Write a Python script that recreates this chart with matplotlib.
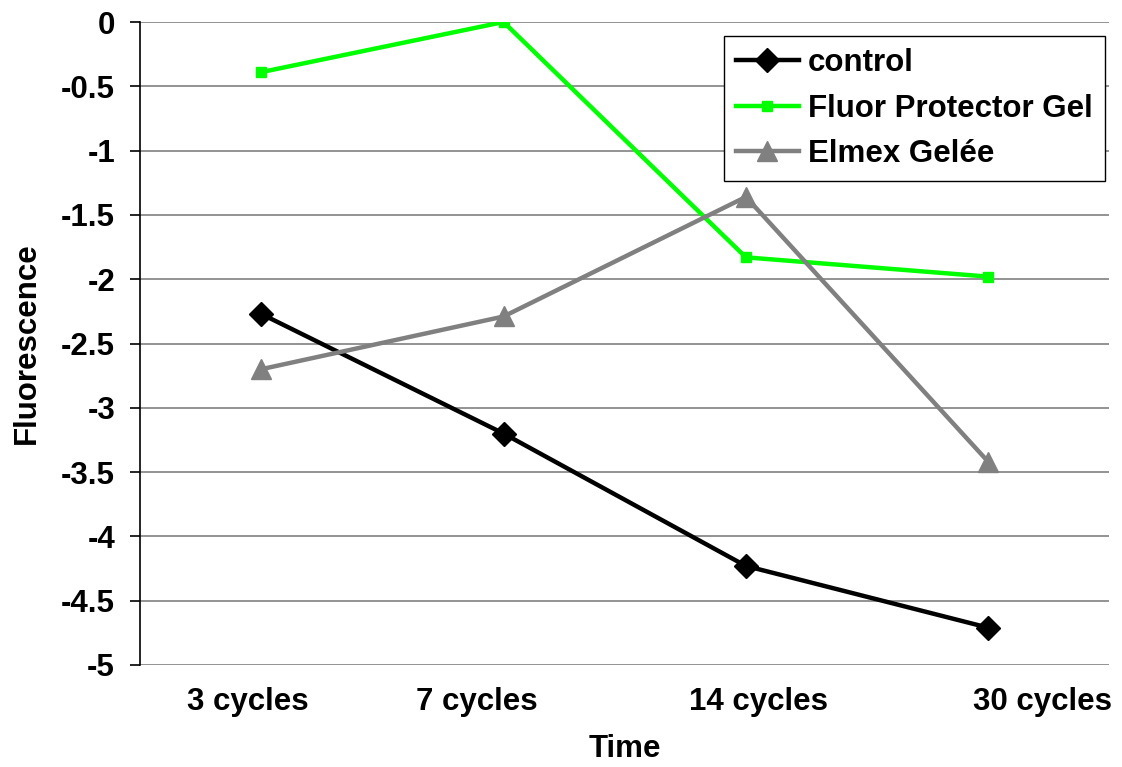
import matplotlib
matplotlib.use("Agg")
import matplotlib.pyplot as plt
from matplotlib.transforms import ScaledTranslation

categories = ["3 cycles", "7 cycles", "14 cycles", "30 cycles"]
control = [-2.27, -3.20, -4.23, -4.71]
fluor = [-0.39, 0.0, -1.83, -1.98]
elmex = [-2.70, -2.29, -1.36, -3.42]
yticks = [0, -0.5, -1, -1.5, -2, -2.5, -3, -3.5, -4, -4.5, -5]
ytick_labels = ["0", "-0.5", "-1", "-1.5", "-2", "-2.5", "-3", "-3.5", "-4", "-4.5", "-5"]

plt.rcParams['font.family'] = ['Liberation Sans', 'DejaVu Sans']
plt.rcParams['font.weight'] = 'bold'

FS = 22.5
fig = plt.figure(figsize=(11.22, 7.67), dpi=100)
ax = fig.add_axes([0.1248, 0.133, 0.864, 0.8383])

x = list(range(len(categories)))
ax.plot(x, control, color='black', lw=3.2, marker='D', ms=12, label='control', zorder=3)
ax.plot(x, fluor, color='#00ff00', lw=3.2, marker='s', ms=7, label='Fluor Protector Gel', zorder=3)
ax.plot(x, elmex, color='#808080', lw=3.2, marker='^', ms=15, label='Elmex Gelée', zorder=3)

ax.set_xlim(-0.5, 3.5)
ax.set_ylim(-5, 0)
ax.set_yticks(yticks)
ax.set_yticklabels(ytick_labels)
ax.set_xticks(x)
ax.set_xticklabels(categories)
ax.yaxis.grid(True, color='#808080', lw=1.2)
ax.set_axisbelow(True)
for s in ['top', 'right', 'bottom']:
    ax.spines[s].set_visible(False)
ax.spines['left'].set_linewidth(1.2)
ax.tick_params(axis='y', length=7, width=1.2, labelsize=FS, pad=11)
ax.tick_params(axis='x', length=0, labelsize=FS, pad=16)
for lbl in ax.get_xticklabels() + ax.get_yticklabels():
    lbl.set_fontweight('bold')

# label placement offsets as in the original rendering (pixels)
label_shift_px = [-13, -27, 13, 54]
for lbl, dx in zip(ax.get_xticklabels(), label_shift_px):
    lbl.set_transform(lbl.get_transform() + ScaledTranslation(dx / 100, 0, fig.dpi_scale_trans))

ax.set_xlabel('Time', fontsize=FS, fontweight='bold', labelpad=12)
ax.set_ylabel('Fluorescence', fontsize=FS, fontweight='bold', labelpad=14)

leg = ax.legend(loc='upper right', bbox_to_anchor=(0.995, 0.978), fontsize=FS,
                frameon=True, fancybox=False, edgecolor='black', framealpha=1,
                handlelength=2.0, borderpad=0.38, labelspacing=0.5, handletextpad=0.3,
                borderaxespad=0.0)
leg.get_frame().set_linewidth(1.0)
for t in leg.get_texts():
    t.set_fontweight('bold')

fig.savefig('out.png', dpi=100)
